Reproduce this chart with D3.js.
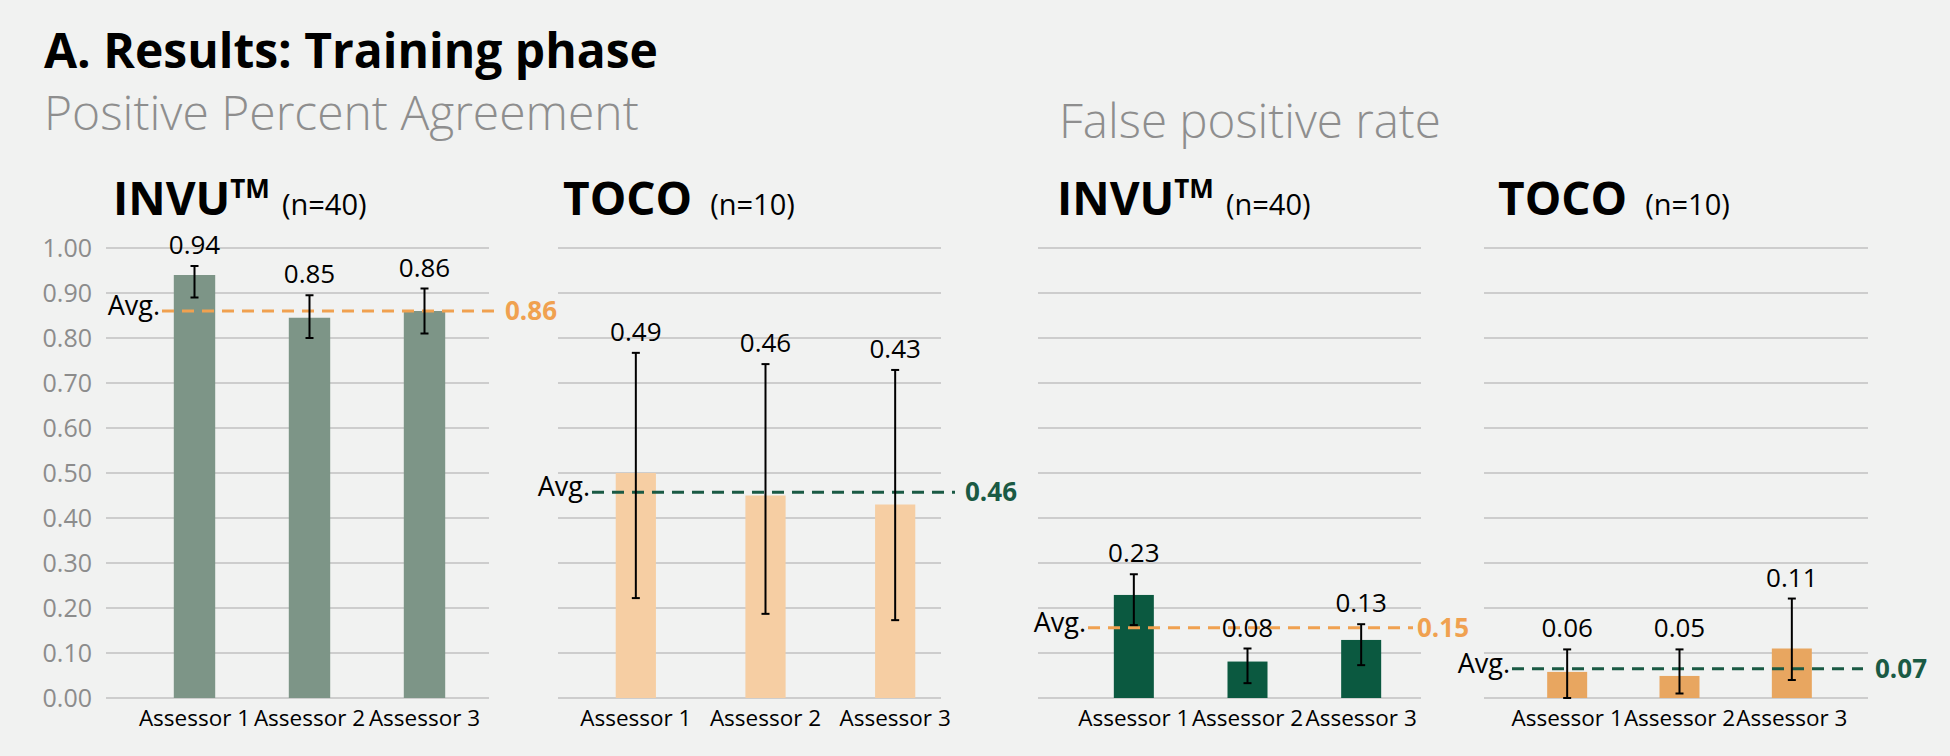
<!DOCTYPE html>
<html>
<head>
<meta charset="utf-8">
<script src="https://cdn.jsdelivr.net/npm/d3@7"></script>
<style>
  html, body { margin: 0; padding: 0; background: #f1f2f1; }
  svg { display: block; font-family: "Open Sans", "Noto Sans", sans-serif; }
</style>
</head>
<body>
<svg id="chart"></svg>
<script>
// Data
const assessors = ["Assessor 1", "Assessor 2", "Assessor 3"];
const yTicks = [0, 0.1, 0.2, 0.3, 0.4, 0.5, 0.6, 0.7, 0.8, 0.9, 1.0];

const ppaInvu = [0.94, 0.845, 0.86];
const ppaInvuLow = [0.89, 0.80, 0.81];
const ppaInvuHigh = [0.96, 0.895, 0.91];
const ppaInvuLabels = ["0.94", "0.85", "0.86"];

const ppaToco = [0.50, 0.45, 0.43];
const ppaTocoLow = [0.222, 0.187, 0.173];
const ppaTocoHigh = [0.767, 0.742, 0.729];
const ppaTocoLabels = ["0.49", "0.46", "0.43"];

const fprInvu = [0.229, 0.081, 0.129];
const fprInvuLow = [0.162, 0.033, 0.073];
const fprInvuHigh = [0.275, 0.11, 0.164];
const fprInvuLabels = ["0.23", "0.08", "0.13"];

const fprToco = [0.058, 0.049, 0.11];
const fprTocoLow = [0.0, 0.01, 0.04];
const fprTocoHigh = [0.108, 0.108, 0.221];
const fprTocoLabels = ["0.06", "0.05", "0.11"];

const avgValues = [0.86, 0.457, 0.156, 0.065];
const avgLabels = ["0.86", "0.46", "0.15", "0.07"];

const width = 1950, height = 756;
const svg = d3.select("#chart").attr("width", width).attr("height", height);

const orange = "#f0a150", darkGreen = "#1a5a44";

// shared vertical scale
const y = d3.scaleLinear().domain([0, 1]).range([698, 248]);

// headings
svg.append("text").attr("x", 44).attr("y", 68)
  .attr("font-size", 48).attr("font-weight", 700).attr("fill", "#000")
  .text("A. Results: Training phase");
svg.append("text").attr("x", 44).attr("y", 130)
  .attr("font-size", 48).attr("font-weight", 300).attr("fill", "#8e8e8e")
  .text("Positive Percent Agreement");
svg.append("text").attr("x", 1059).attr("y", 138)
  .attr("font-size", 47.5).attr("font-weight", 300).attr("fill", "#8e8e8e")
  .text("False positive rate");

// panel layout
const panels = [
  { name: "INVU", tm: true, n: "(n=40)", titleX: 113, grid: [106, 489], band: [137, 482], pad: 0.64,
    values: ppaInvu, low: ppaInvuLow, high: ppaInvuHigh, labels: ppaInvuLabels,
    bar: "#7d9587", avgColor: orange, avgStart: 162, avgEnd: 502, avgGap: 3, yAxis: true },
  { name: "TOCO", tm: false, n: "(n=10)", titleX: 563, grid: [558, 941], band: [571, 960], pad: 0.69,
    values: ppaToco, low: ppaTocoLow, high: ppaTocoHigh, labels: ppaTocoLabels,
    bar: "#f6cea3", avgColor: darkGreen, avgStart: 592, avgEnd: 955, avgGap: 10, yAxis: false },
  { name: "INVU", tm: true, n: "(n=40)", titleX: 1057, grid: [1038, 1421], band: [1077, 1418], pad: 0.648,
    values: fprInvu, low: fprInvuLow, high: fprInvuHigh, labels: fprInvuLabels,
    bar: "#0b5940", avgColor: orange, avgStart: 1088, avgEnd: 1413, avgGap: 4, yAxis: false },
  { name: "TOCO", tm: false, n: "(n=10)", titleX: 1498, grid: [1484, 1868], band: [1511, 1848], pad: 0.644,
    values: fprToco, low: fprTocoLow, high: fprTocoHigh, labels: fprTocoLabels,
    bar: "#e8a660", avgColor: darkGreen, avgStart: 1512, avgEnd: 1863, avgGap: 12, yAxis: false }
];

panels.forEach((p, pi) => {
  const g = svg.append("g");

  const x = d3.scaleBand().domain(assessors).range(p.band)
    .paddingInner(p.pad).paddingOuter(p.pad / 2);

  // gridlines
  g.selectAll("line.grid").data(yTicks).enter().append("line")
    .attr("class", "grid")
    .attr("x1", p.grid[0]).attr("x2", p.grid[1])
    .attr("y1", d => y(d)).attr("y2", d => y(d))
    .attr("stroke", "#cdcdcd").attr("stroke-width", 2);

  // y axis labels (first panel only)
  if (p.yAxis) {
    const axis = d3.axisLeft(y).tickValues(yTicks).tickFormat(d3.format(".2f")).tickSize(0).tickPadding(0);
    const ag = g.append("g").attr("transform", "translate(92,0)").call(axis);
    ag.select(".domain").remove();
    ag.selectAll("text").attr("font-size", 25).attr("fill", "#8c8c8c")
      .attr("font-family", "'Open Sans', sans-serif");
  }

  // panel title
  const t = g.append("text").attr("x", p.titleX).attr("y", 215).attr("fill", "#000");
  t.append("tspan").attr("font-size", 46).attr("font-weight", 700).text(p.name);
  if (p.tm) {
    t.append("tspan").attr("font-size", 26).attr("font-weight", 700).attr("dy", -17).text("TM");
    t.append("tspan").attr("font-size", 29).attr("dy", 17).attr("dx", 12).text(p.n);
  } else {
    t.append("tspan").attr("font-size", 29).attr("dx", 18).text(p.n);
  }

  // bars
  g.selectAll("rect.bar").data(p.values).enter().append("rect")
    .attr("class", "bar")
    .attr("x", (d, i) => x(assessors[i]))
    .attr("width", x.bandwidth())
    .attr("y", d => y(d))
    .attr("height", d => y(0) - y(d))
    .attr("fill", p.bar);

  // average line
  const avgY = y(avgValues[pi]);
  g.append("line")
    .attr("x1", p.avgStart).attr("x2", p.avgEnd)
    .attr("y1", avgY).attr("y2", avgY)
    .attr("stroke", p.avgColor).attr("stroke-width", 3)
    .attr("stroke-dasharray", "12,8");
  g.append("text").attr("x", p.avgStart - 2).attr("y", avgY + 4)
    .attr("text-anchor", "end").attr("font-size", 27).attr("fill", "#000")
    .text("Avg.");
  g.append("text").attr("x", p.avgEnd + p.avgGap).attr("y", avgY + 9)
    .attr("font-size", 26).attr("font-weight", 700).attr("fill", p.avgColor)
    .text(avgLabels[pi]);

  // error bars
  const cx = i => x(assessors[i]) + x.bandwidth() / 2;
  const err = g.selectAll("g.err").data(p.values).enter().append("g").attr("class", "err");
  err.append("line")
    .attr("x1", (d, i) => cx(i)).attr("x2", (d, i) => cx(i))
    .attr("y1", (d, i) => y(p.low[i])).attr("y2", (d, i) => y(p.high[i]))
    .attr("stroke", "#000").attr("stroke-width", 2);
  ["low", "high"].forEach(k => {
    err.append("line")
      .attr("x1", (d, i) => cx(i) - 4).attr("x2", (d, i) => cx(i) + 4)
      .attr("y1", (d, i) => y(p[k][i])).attr("y2", (d, i) => y(p[k][i]))
      .attr("stroke", "#000").attr("stroke-width", 2);
  });

  // value labels
  g.selectAll("text.val").data(p.labels).enter().append("text")
    .attr("class", "val")
    .attr("x", (d, i) => cx(i))
    .attr("y", (d, i) => y(p.high[i]) - 12)
    .attr("text-anchor", "middle").attr("font-size", 26).attr("fill", "#000")
    .text(d => d);

  // category labels
  g.selectAll("text.cat").data(assessors).enter().append("text")
    .attr("class", "cat")
    .attr("x", d => x(d) + x.bandwidth() / 2)
    .attr("y", 726)
    .attr("text-anchor", "middle").attr("font-size", 22.5).attr("fill", "#000")
    .text(d => d);
});
</script>
</body>
</html>
